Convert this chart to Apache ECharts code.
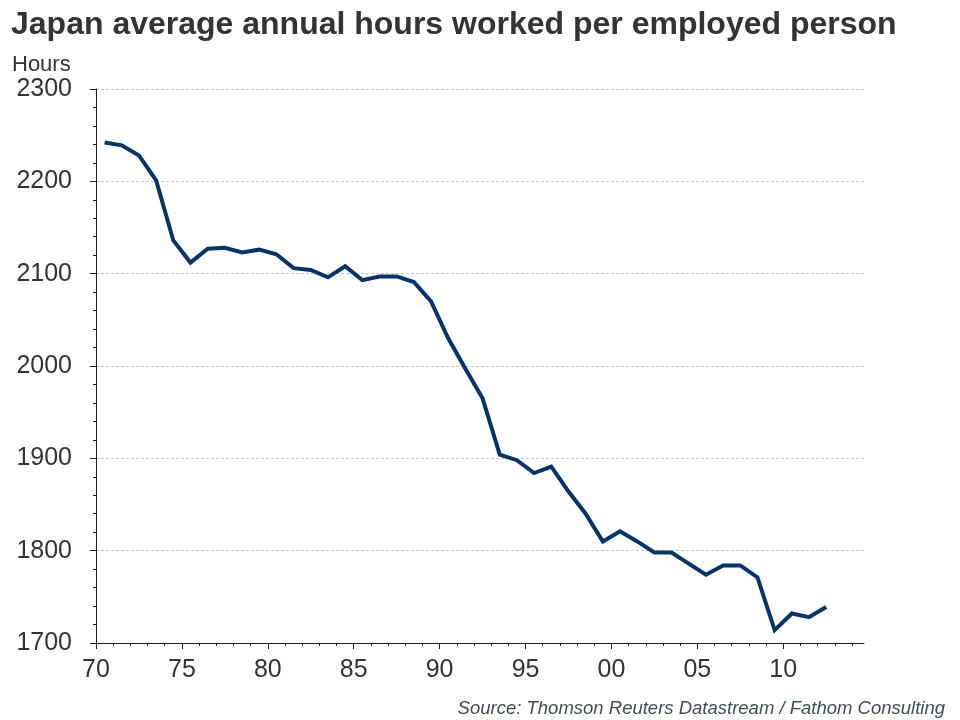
<!DOCTYPE html>
<html>
<head>
<meta charset="utf-8">
<script src="https://cdn.jsdelivr.net/npm/echarts@6/dist/echarts.min.js"></script>
<style>
html,body{margin:0;padding:0;background:#fff;}
#chart{width:960px;height:720px;}
</style>
</head>
<body>
<div id="chart"></div>
<script>
// Data (points plotted at mid-year)
var years = [1970,1971,1972,1973,1974,1975,1976,1977,1978,1979,1980,1981,1982,1983,1984,1985,1986,1987,1988,1989,1990,1991,1992,1993,1994,1995,1996,1997,1998,1999,2000,2001,2002,2003,2004,2005,2006,2007,2008,2009,2010,2011,2012];
var hours = [2242,2239,2228,2201,2136,2112,2127,2128,2123,2126,2121,2106,2104,2096,2108,2093,2097,2097,2091,2070,2030,1997,1965,1904,1898,1884,1891,1864,1840,1810,1821,1810,1798,1798,1786,1774,1784,1784,1771,1714,1732,1728,1739];
var majorYears = [1970,1975,1980,1985,1990,1995,2000,2005,2010];
var minorYears = [];
for (var y = 1971; y <= 2014; y++) { if (y % 5 !== 0) minorYears.push(y); }
var yTicks = [1700,1800,1900,2000,2100,2200,2300];

var seriesData = years.map(function (yr, i) { return [yr + 0.5, hours[i]]; });

var chart = echarts.init(document.getElementById('chart'), null, {renderer: 'canvas'});
var font = '"Liberation Sans", Arial, sans-serif';
var axisColor = '#222';
var option = {
  backgroundColor: '#fff',
  animation: false,
  title: [
    {text: 'Japan average annual hours worked per employed person', left: 6, top: 4,
     textStyle: {fontFamily: font, fontSize: 32, fontWeight: 'bold', color: '#333'}},
    {text: 'Hours', left: 7, top: 49,
     textStyle: {fontFamily: font, fontSize: 22, fontWeight: 'normal', color: '#333'}},
    {text: 'Source: Thomson Reuters Datastream / Fathom Consulting', right: 10, top: 694,
     textStyle: {fontFamily: font, fontSize: 18.5, fontStyle: 'italic', fontWeight: 'normal', color: '#3d4d5c'}}
  ],
  grid: {left: 96, right: 96, top: 89, bottom: 77, containLabel: false},
  xAxis: [
    {
      type: 'value', min: 1970, max: 2014.7, interval: 5,
      axisLine: {show: true, lineStyle: {color: axisColor, width: 1}},
      axisTick: {show: true, inside: false, length: 6, customValues: majorYears, lineStyle: {color: axisColor}},
      minorTick: {show: false},
      axisLabel: {
        customValues: majorYears, margin: 15,
        fontFamily: font, fontSize: 25, color: '#333',
        formatter: function (v) { var s = String(Math.round(v) % 100); return s.length < 2 ? '0' + s : s; }
      },
      splitLine: {show: false}
    },
    {
      type: 'value', min: 1970, max: 2014.7, interval: 5, position: 'bottom',
      axisLine: {show: false},
      axisTick: {show: true, inside: false, length: 3, customValues: minorYears, lineStyle: {color: axisColor}},
      axisLabel: {show: false},
      splitLine: {show: false}
    }
  ],
  yAxis: {
    type: 'value', min: 1700, max: 2300, interval: 100,
    axisLine: {show: true, lineStyle: {color: axisColor, width: 1}},
    axisTick: {show: true, inside: false, length: 6, lineStyle: {color: axisColor}},
    minorTick: {show: true, splitNumber: 5, length: 3, lineStyle: {color: axisColor}},
    axisLabel: {margin: 24, fontFamily: font, fontSize: 25, color: '#333',
      formatter: function (v) { return yTicks.indexOf(v) >= 0 ? String(v) : ''; }},
    splitLine: {show: true, lineStyle: {color: '#c8c8c8', type: [3, 2], width: 1}}
  },
  series: [{
    type: 'line', xAxisIndex: 0, data: seriesData, showSymbol: false, symbol: 'none',
    lineStyle: {color: '#073466', width: 4, join: 'miter'}
  }]
};
chart.setOption(option);
</script>
</body>
</html>
